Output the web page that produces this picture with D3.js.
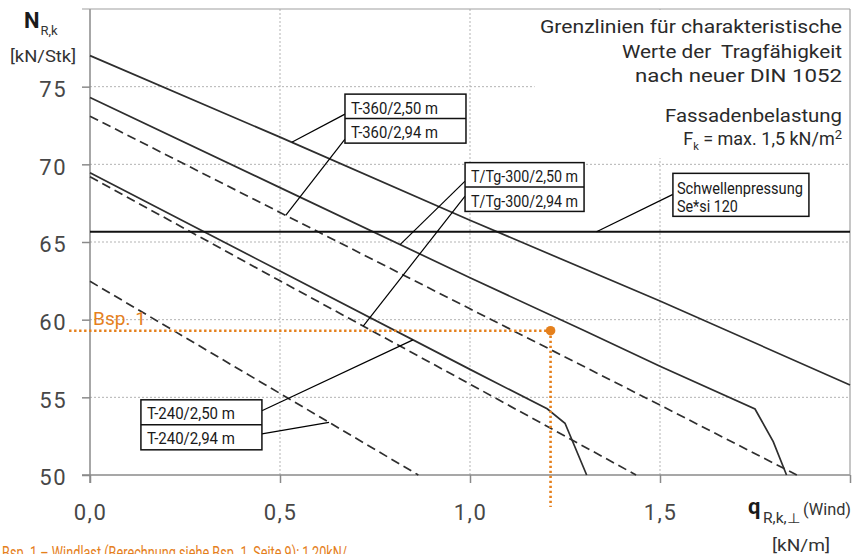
<!DOCTYPE html>
<html>
<head>
<meta charset="utf-8">
<script src="https://cdn.jsdelivr.net/npm/d3@7"></script>
<style>
  html, body { margin: 0; padding: 0; background: #fff; }
  svg { display: block; }
  text { font-family: Roboto, "Liberation Sans", Arial, sans-serif; }
</style>
</head>
<body>
<svg id="chart" width="862" height="554"></svg>
<script>
// ---------------- DATA ----------------
const xTicks = [0, 0.5, 1.0, 1.5, 2.0];
const xTickLabels = ["0,0", "0,5", "1,0", "1,5", ""];
const yTicks = [50, 55, 60, 65, 70, 75];
const yTickLabels = ["50", "55", "60", "65", "70", "75"];
const xGrid = [0.5, 1.0, 1.5];
const yGrid = [55, 60, 65, 70, 75];

// series: [q (kN/m), N (kN/Stk)]
const t360_250 = [[0, 77.0], [0.5, 71.75], [1.0, 66.4], [1.5, 61.2], [2.0, 55.8]];
const t360_294 = [[0, 73.1], [0.5, 66.9], [1.0, 60.7], [1.5, 54.5], [1.86, 50]];
const tg300_250 = [[0, 74.3], [0.5, 68.5], [1.0, 62.7], [1.3, 59.3], [1.5, 57.0], [1.75, 54.25], [1.798, 52.15], [1.833, 50]];
const tg300_294 = [[0, 69.2], [0.5, 62.5], [1.0, 55.85], [1.437, 50]];
const t240_250 = [[0, 69.46], [0.5, 63.13], [1.0, 56.8], [1.203, 54.26], [1.25, 53.33], [1.307, 50]];
const t240_294 = [[0, 62.47], [0.5, 55.25], [0.864, 50]];

const seriesNames = ["T-360/2,50 m", "T-360/2,94 m", "T/Tg-300/2,50 m", "T/Tg-300/2,94 m", "T-240/2,50 m", "T-240/2,94 m"];
const seriesData = [t360_250, t360_294, tg300_250, tg300_294, t240_250, t240_294];
const seriesDashed = [false, true, false, true, false, true];

const schwellenpressung = 65.66;     // kN/Stk
const bsp1Point = [1.212, 59.29];    // Bsp. 1
const bsp1LineStartX = -0.055;
const bsp1LineEndY = 47.94;

// pointer target x-values on each series
const pointerTargetX = [0.531, 0.515, 0.816, 0.719, 0.85, 0.629];
const schwellenPointerX = 1.333;

const titleLines = ["Grenzlinien für charakteristische", "Werte der\u00A0 Tragfähigkeit", "nach neuer DIN 1052", "Fassadenbelastung"];

// ---------------- CHART ----------------
const svg = d3.select("#chart");
const x = d3.scaleLinear().domain([0, 2]).range([90, 850]);
const y = d3.scaleLinear().domain([50, 80]).range([475, 9]);

const ORANGE = "#E5801C";
const DARK = "#2e2e2e";
const TXT = "#474747";
const AXIS = "#8a8a8a";

function interp(series, xv) {
  for (let i = 0; i < series.length - 1; i++) {
    const [x0, y0] = series[i], [x1, y1] = series[i + 1];
    if (xv >= x0 && xv <= x1) return y0 + (y1 - y0) * (xv - x0) / (x1 - x0);
  }
  return series[series.length - 1][1];
}

// grid
const grid = svg.append("g").attr("stroke", "#b3b3b3").attr("stroke-width", 1).attr("stroke-dasharray", "2,2");
grid.selectAll("line.h").data(yGrid).join("line")
  .attr("x1", x(0)).attr("x2", x(2)).attr("y1", d => y(d)).attr("y2", d => y(d));
grid.selectAll("line.v").data(xGrid).join("line")
  .attr("x1", d => x(d)).attr("x2", d => x(d)).attr("y1", y(80)).attr("y2", y(50));

// white cover behind the title block
svg.append("rect").attr("x", x(1.17)).attr("y", y(80) + 1).attr("width", x(2) - x(1.17) - 1).attr("height", y(70.4) - y(80) - 1).attr("fill", "#fff");

// axes
const yAxis = d3.axisLeft(y).tickValues(yTicks).tickSize(8).tickPadding(15)
  .tickFormat((d, i) => yTickLabels[i]).tickSizeOuter(0);
const gy = svg.append("g").attr("transform", `translate(${x(0)},0)`).call(yAxis);
gy.select(".domain").remove();
gy.selectAll("line").attr("stroke", AXIS).attr("stroke-width", 1.5);
gy.selectAll("text").attr("fill", TXT).attr("font-size", 22).attr("letter-spacing", 1.5).attr("dy", "0.45em");

const xAxis = d3.axisBottom(x).tickValues(xTicks).tickSize(8).tickPadding(21)
  .tickFormat((d, i) => xTickLabels[i]).tickSizeOuter(0);
const gx = svg.append("g").attr("transform", `translate(0,${y(50)})`).call(xAxis);
gx.select(".domain").remove();
gx.selectAll("line").attr("stroke", AXIS).attr("stroke-width", 1.5);
gx.selectAll("text").attr("fill", TXT).attr("font-size", 22).attr("letter-spacing", 1.5);

// frame
const frame = svg.append("g").attr("stroke", AXIS).attr("stroke-width", 1.5);
frame.append("line").attr("x1", x(0) - 8).attr("x2", x(2)).attr("y1", y(50)).attr("y2", y(50));
frame.append("line").attr("x1", x(0)).attr("x2", x(0)).attr("y1", y(80)).attr("y2", y(50) + 8);
frame.append("line").attr("x1", x(0) - 8).attr("x2", x(2)).attr("y1", y(80)).attr("y2", y(80)).attr("stroke", "#a0a0a0").attr("stroke-width", 1.2);
frame.append("line").attr("x1", x(2)).attr("x2", x(2)).attr("y1", y(80)).attr("y2", y(50)).attr("stroke", "#a0a0a0").attr("stroke-width", 1.2);

// curves
const line = d3.line().x(d => x(d[0])).y(d => y(d[1]));
svg.append("g").selectAll("path").data(seriesData).join("path")
  .attr("d", line).attr("fill", "none").attr("stroke", DARK).attr("stroke-width", 1.7)
  .attr("stroke-dasharray", (d, i) => seriesDashed[i] ? "9,5" : null);

// Schwellenpressung
svg.append("line").attr("x1", x(0)).attr("x2", x(2)).attr("y1", y(schwellenpressung)).attr("y2", y(schwellenpressung))
  .attr("stroke", "#111").attr("stroke-width", 2);

// label boxes
const boxes = [
  { series: [0, 1], left: x(0.671), top: y(74.52), w: 121, rowH: 24.5, side: "left", off: [20, 45], tl: [87, 87] },
  { series: [2, 3], left: x(0.987), top: y(70.11), w: 119, rowH: 24.4, side: "left", off: [18.5, 33.5], tl: [107, 107] },
  { series: [4, 5], left: x(0.134), top: y(54.84), w: 121, rowH: 25, side: "right", off: [11, 34], tl: [88, 88] }
];
const pointers = svg.append("g").attr("stroke", "#000").attr("stroke-width", 1.2);
boxes.forEach(b => {
  b.series.forEach((si, k) => {
    const px = b.side === "left" ? b.left : b.left + b.w;
    const tx = pointerTargetX[si];
    pointers.append("line").attr("x1", px).attr("y1", b.top + b.off[k])
      .attr("x2", x(tx)).attr("y2", y(interp(seriesData[si], tx)));
  });
});
// Schwellenpressung box pointer
const sb = { left: x(1.534), top: y(69.42), w: 136, h: 43 };
pointers.append("line").attr("x1", sb.left).attr("y1", sb.top + 21)
  .attr("x2", x(schwellenPointerX)).attr("y2", y(schwellenpressung));

boxes.forEach(b => {
  const g = svg.append("g");
  g.append("rect").attr("x", b.left).attr("y", b.top).attr("width", b.w).attr("height", b.rowH * 2)
    .attr("fill", "#fff").attr("stroke", "#111").attr("stroke-width", 1.5);
  g.append("line").attr("x1", b.left).attr("x2", b.left + b.w).attr("y1", b.top + b.rowH).attr("y2", b.top + b.rowH)
    .attr("stroke", "#111").attr("stroke-width", 1.5);
  b.series.forEach((si, k) => {
    g.append("text").attr("x", b.left + 6).attr("y", b.top + b.rowH * k + 19.5)
      .attr("font-size", 17).attr("fill", "#1a1a1a")
      .attr("textLength", b.tl[k]).attr("lengthAdjust", "spacingAndGlyphs")
      .text(seriesNames[si]);
  });
});

const sg = svg.append("g");
sg.append("rect").attr("x", sb.left).attr("y", sb.top).attr("width", sb.w).attr("height", sb.h)
  .attr("fill", "#fff").attr("stroke", "#111").attr("stroke-width", 1.5);
sg.append("text").attr("x", sb.left + 4).attr("y", sb.top + 21).attr("font-size", 16).attr("fill", "#1a1a1a")
  .attr("textLength", 126).attr("lengthAdjust", "spacingAndGlyphs").text("Schwellenpressung");
sg.append("text").attr("x", sb.left + 4).attr("y", sb.top + 39).attr("font-size", 16).attr("fill", "#1a1a1a")
  .attr("textLength", 61).attr("lengthAdjust", "spacingAndGlyphs").text("Se*si 120");

// Bsp. 1 (orange)
const og = svg.append("g");
og.append("line").attr("x1", x(bsp1LineStartX)).attr("x2", x(bsp1Point[0])).attr("y1", y(bsp1Point[1])).attr("y2", y(bsp1Point[1]))
  .attr("stroke", ORANGE).attr("stroke-width", 2.6).attr("stroke-dasharray", "2.4,2.6");
og.append("line").attr("x1", x(bsp1Point[0])).attr("x2", x(bsp1Point[0])).attr("y1", y(bsp1Point[1])).attr("y2", y(bsp1LineEndY))
  .attr("stroke", ORANGE).attr("stroke-width", 2.6).attr("stroke-dasharray", "2.4,2.6");
og.append("circle").attr("cx", x(bsp1Point[0])).attr("cy", y(bsp1Point[1])).attr("r", 4.8).attr("fill", ORANGE);
og.append("text").attr("x", x(0) + 3).attr("y", y(bsp1Point[1]) - 6).attr("font-size", 19).attr("fill", ORANGE)
  .attr("textLength", 53).attr("lengthAdjust", "spacingAndGlyphs").text("Bsp. 1");
og.append("text").attr("x", 2).attr("y", 559).attr("font-size", 18).attr("fill", ORANGE)
  .attr("textLength", 345).attr("lengthAdjust", "spacingAndGlyphs")
  .text("Bsp. 1 – Windlast (Berechnung siehe Bsp. 1, Seite 9): 1,20kN/");

// Title block (top right)
const tg = svg.append("g").attr("fill", "#2a2a2a").attr("font-size", 18).attr("text-anchor", "end");
const titleY = [33, 58, 82, 122];
const titleW = [302, 220, 207, 177];
titleLines.forEach((t, i) => {
  tg.append("text").attr("x", 842).attr("y", titleY[i])
    .attr("textLength", titleW[i]).attr("lengthAdjust", "spacingAndGlyphs").text(t);
});
const fk = tg.append("text").attr("x", 842).attr("y", 145);
fk.append("tspan").text("F");
fk.append("tspan").attr("font-size", 11).attr("dy", 5).text("k");
fk.append("tspan").attr("dy", -5).text(" = max. 1,5 kN/m");
fk.append("tspan").attr("font-size", 13).attr("dy", -6).text("2");

// Y-axis title
const yt = svg.append("g").attr("fill", "#1a1a1a");
const nT = yt.append("text").attr("x", 24).attr("y", 28);
nT.append("tspan").attr("font-size", 22).attr("font-weight", "bold").text("N");
nT.append("tspan").attr("font-size", 13).attr("dy", 7).attr("dx", 1).attr("fill", "#333").text("R,k");
yt.append("text").attr("x", 10).attr("y", 62).attr("font-size", 16).attr("fill", "#333")
  .attr("textLength", 66).attr("lengthAdjust", "spacingAndGlyphs").text("[kN/Stk]");

// X-axis title
const xt = svg.append("g").attr("fill", "#1a1a1a");
xt.append("text").attr("x", 748).attr("y", 514).attr("font-size", 22).attr("font-weight", "bold").text("q");
xt.append("text").attr("x", 763).attr("y", 523).attr("font-size", 14).attr("fill", "#333")
  .attr("textLength", 37).attr("lengthAdjust", "spacingAndGlyphs").text("R,k,⊥");
xt.append("text").attr("x", 803).attr("y", 515).attr("font-size", 16).attr("fill", "#333")
  .attr("textLength", 48).attr("lengthAdjust", "spacingAndGlyphs").text("(Wind)");
xt.append("text").attr("x", 772).attr("y", 551).attr("font-size", 16).attr("fill", "#333")
  .attr("textLength", 58).attr("lengthAdjust", "spacingAndGlyphs").text("[kN/m]");
</script>
</body>
</html>
